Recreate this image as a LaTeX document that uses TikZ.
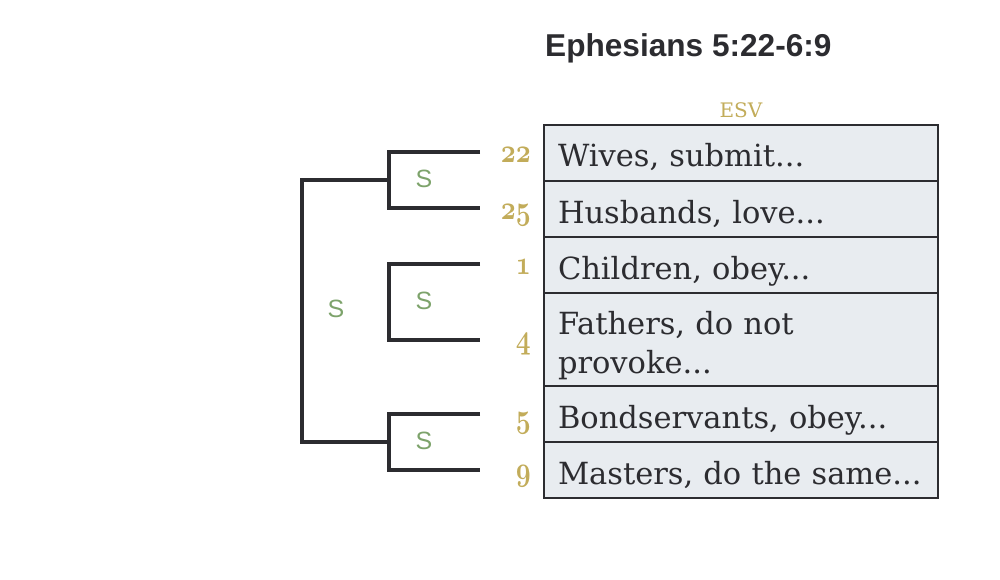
\RequirePackage{fix-cm}
\documentclass[tikz,border=0pt]{standalone}
\usepackage{fontspec}
\setmainfont{DejaVu Serif}
\newfontfamily\titlefont{Liberation Sans}
\usetikzlibrary{positioning}

\definecolor{inkdark}{RGB}{44,44,48}
\definecolor{rowfill}{RGB}{232,236,240}
\definecolor{versegold}{RGB}{194,172,90}
\definecolor{relgreen}{RGB}{125,163,107}

\newcommand{\versefig}[1]{\scalebox{1}[1.3]{$\mathnormal{#1}$}}

\begin{document}
\begin{tikzpicture}[
  x=1pt, y=-1pt,
  node distance=0pt,
  row/.style={
    draw=inkdark,
    line width=2pt,
    fill=rowfill,
    outer sep=0pt,
    inner xsep=14pt,
    inner ysep=0pt,
    minimum width=394pt,
    minimum height=56pt,
    text width=366pt,
    align=left,
    text height=28pt,
    text depth=0pt,
    text=inkdark,
    font=\fontsize{30.5}{39}\selectfont
  },
  versenum/.style={
    anchor=base east,
    text=versegold,
    inner sep=0pt,
    font=\fontsize{26}{27}\selectfont\boldmath
  },
  rel/.style={
    text=relgreen,
    inner sep=0pt,
    font=\titlefont\fontsize{25}{27}\selectfont
  },
  bracket/.style={draw=inkdark, line width=3.2pt}
]
\useasboundingbox (0,0) rectangle (1000,580);

% --- Heading ---
\node[anchor=base west, inner sep=0pt, text=inkdark,
  font=\titlefont\bfseries\fontsize{31.6}{34}\selectfont] (title) at (545,57)
{Ephesians 5:22-6:9};
\node[anchor=base, inner sep=0pt, text=versegold,
  font=\fontsize{20}{22}\selectfont] (esv) at (741,118) {ESV};

% --- Passage rows ---
\node[row, anchor=north west] (wives) at (544,125) {Wives, submit...};
\node[row, below=of wives] (husbands) {Husbands, love...};
\node[row, below=of husbands] (children) {Children, obey...};
\node[row, below=of children, minimum height=93pt, text depth=39pt] (fathers)
{Fathers, do not\\provoke...};
\node[row, below=of fathers] (servants) {Bondservants, obey...};
\node[row, below=of servants] (masters) {Masters, do the same...};

% --- Verse numbers ---
\node[versenum] (n22) at (531,163) {\versefig{22}};
\node[versenum] (n25) at (531,219) {\versefig{25}};
\node[versenum] (n1) at (531,274) {\versefig{1}};
\node[versenum] (n4) at (531,348) {\versefig{4}};
\node[versenum] (n5) at (531,427) {\versefig{5}};
\node[versenum] (n9) at (531,480) {\versefig{9}};

% Bracket ends and joints
\coordinate (v22) at (480,152);
\coordinate (v25) at (480,208);
\coordinate (v1) at (480,264);
\coordinate (v4) at (480,340);
\coordinate (v5) at (480,414);
\coordinate (v9) at (480,470);
\coordinate (j1) at (389,180);
\coordinate (j2) at (389,302);
\coordinate (j3) at (389,442);
\coordinate (root) at (302,311);

% Brackets
\draw[bracket] (v22) -| (j1) |- (v25);
\draw[bracket] (v1) -| (j2) |- (v4);
\draw[bracket] (v5) -| (j3) |- (v9);
\draw[bracket] (j1) -| (root) |- (j3);

% Relation labels
\node[rel] (s1) at (424,179) {S};
\node[rel] (s2) at (424,301) {S};
\node[rel] (s3) at (424,441) {S};
\node[rel] (s0) at (336,309) {S};

\end{tikzpicture}
\end{document}
